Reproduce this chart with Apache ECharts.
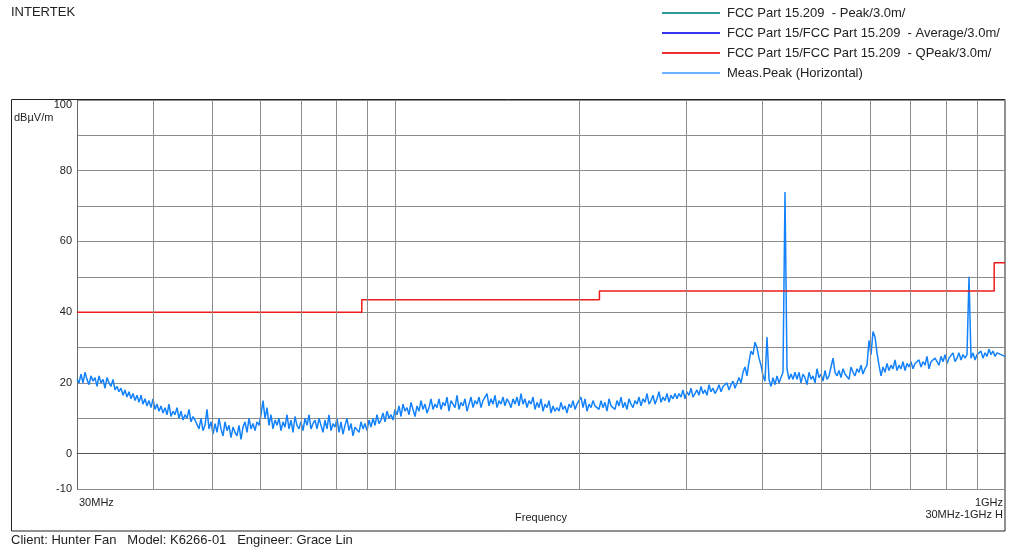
<!DOCTYPE html>
<html>
<head>
<meta charset="utf-8">
<script src="https://cdn.jsdelivr.net/npm/echarts@6/dist/echarts.min.js"></script>
<style>html,body{margin:0;padding:0;background:#fff}#c{width:1011px;height:550px}</style>
</head>
<body>
<div id="c"></div>
<script>
// ---- Data ----
const seriesNames = [
  'FCC Part 15.209  - Peak/3.0m/',
  'FCC Part 15/FCC Part 15.209  - Average/3.0m/',
  'FCC Part 15/FCC Part 15.209  - QPeak/3.0m/',
  'Meas.Peak (Horizontal)'
];
// QPeak limit line (MHz, dBuV/m)
const limitFreq = [30, 88, 88, 216, 216, 960, 960, 1000];
const limitLevel = [40, 40, 43.5, 43.5, 46, 46, 54, 54];
// Frequency grid lines (MHz)
const gridFreqs = [40, 50, 60, 70, 80, 90, 100, 200, 300, 400, 500, 600, 700, 800, 900];
const yTickLabels = [100, 80, 60, 40, 20, 0, -10];
// Sweep: 30 MHz .. 1 GHz, log-spaced points
const sweepStart = 30, sweepStop = 1000;
const measPeak = [
  21, 20, 22.5, 20, 23, 21, 19.5, 22, 20.5, 21.5, 19, 22, 20, 21, 18.5, 21.5, 20, 19, 21, 18,
  19, 17.5, 18.5, 16.5, 18, 16, 17.5, 15.5, 17, 15, 16.5, 14.5, 16.5, 14, 15.5, 13.5, 15, 13, 15.5, 12.5,
  14, 12, 13.5, 11.5, 13, 11, 14, 10.5, 12, 11, 13, 10, 12, 9.5, 11, 10, 12.5, 9, 10.5, 9.5,
  9, 7, 10, 6.5, 8, 12.5, 7, 9, 5.5, 8.5, 6, 10, 7, 5, 9, 6.5, 8, 4.5, 7.5, 6,
  5, 8, 4, 7.5, 9, 6, 10, 7, 8.5, 6.5, 9, 8, 11, 15, 10, 13, 8, 11, 7, 9.5,
  8, 10, 6.5, 9, 7.5, 11, 7, 9.5, 6, 10.5, 8, 7, 9, 6.5, 10, 8, 11, 7, 8.5, 9.5,
  7, 10, 8, 6, 9.5, 7, 11, 6.5, 8.5, 7.5, 10, 6, 9, 5.5, 8, 10, 6.5, 8.5, 5, 7.5,
  8, 6, 9, 7, 8.5, 6.5, 9.5, 7.5, 10, 8, 11, 8.5, 9.5, 11.5, 9, 12, 10, 11, 9.5, 12.5,
  11, 13.5, 10.5, 14, 12, 13, 11, 14.5, 12.5, 10.5, 13.5, 12, 15, 12.5, 14, 11.5, 13, 15.5, 12.5, 14,
  13, 15.5, 12.5, 14.5, 13.5, 16, 12, 15, 14, 13, 16.5, 12.5, 14.5, 13.5, 15.5, 12, 14, 16, 13, 15,
  14, 16, 13, 15, 14.5, 17, 13.5, 15.5, 14, 16.5, 13, 15, 14, 16, 13.5, 15.5, 14.5, 13, 15.5, 14,
  16, 13.5, 17, 14, 15.5, 13, 15, 14, 16, 12.5, 14.5, 13, 15.5, 12, 14, 13, 15, 11.5, 13.5, 12,
  13, 12, 14.5, 12.5, 13.5, 11.5, 14, 13, 15, 12.5, 14, 13.5, 16, 13, 15.5, 12, 14, 13, 15, 13.5,
  14, 12.5, 15, 13, 14.5, 12, 15.5, 13.5, 14, 12.5, 15, 13.5, 16, 13, 14.5, 12.5, 15.5, 14, 13, 15,
  14, 16, 13.5, 15.5, 14.5, 17, 14, 15, 16.5, 14, 15.5, 17.5, 14.5, 16, 15, 17, 14.5, 16.5, 15.5, 17,
  15.5, 17, 16, 18, 15.5, 17.5, 16.5, 18.5, 16, 17, 18, 16.5, 19, 17, 18, 16.5, 19.5, 17.5, 18.5, 17,
  18, 19.5, 17.5, 19, 18.5, 20, 18, 19.5, 20.5, 18.5, 20, 21.5, 20, 23, 24.5, 22, 26, 29, 28, 31.5,
  30, 27, 25, 22, 20.5, 33, 21, 19, 21.5, 19.5, 22, 20, 21.5, 23, 74, 24, 21, 22.5, 21, 23,
  21, 23, 20, 22.5, 21.5, 19.5, 23, 21, 22, 20, 24, 21.5, 22.5, 20.5, 23.5, 21, 22, 24.5, 27, 23,
  22, 23.5, 21.5, 24, 22.5, 23, 21, 24.5, 23, 22, 24, 23, 25, 22.5, 24, 25, 32, 28, 34.5, 33,
  28.5, 25, 22, 24.5, 23, 25.5, 23.5, 25, 24, 26.5, 23.5, 25, 24, 26, 23.5, 25.5, 24.5, 26, 24, 25.5,
  25, 26.5, 24.5, 26, 25, 27.5, 24, 26, 25.5, 27, 26, 25, 27.5, 26, 28, 25.5, 27, 26.5, 28.5, 26,
  27, 28.5, 26.5, 28, 27, 28, 50, 27, 28.5, 26.5, 28, 27.5, 29, 27, 28.5, 27.5, 29.5, 28, 29, 27.5, 28.5, 29, 28, 28.5, 27.5
];

// ---- Build ----
const n = measPeak.length;
const sweepFreq = measPeak.map((_, i) => sweepStart * Math.pow(sweepStop / sweepStart, i / (n - 1)));
const measData = measPeak.map((v, i) => [sweepFreq[i], v]);
const limitData = limitFreq.map((f, i) => [f, limitLevel[i]]);

const legendColors = ['#2e9c9c', '#3535f0', '#f03030', '#6ab4ff'];
const FONT = 'Liberation Sans, Arial, sans-serif';

const chart = echarts.init(document.getElementById('c'), null, {renderer: 'canvas'});
chart.setOption({
  animation: false,
  backgroundColor: '#fff',
  textStyle: {fontFamily: FONT},
  legend: {
    orient: 'vertical',
    left: 662, top: 6, padding: 0,
    icon: 'rect',
    itemWidth: 58, itemHeight: 2, itemGap: 6,
    selectedMode: false,
    textStyle: {fontSize: 13, color: '#222', fontFamily: FONT, lineHeight: 14, padding: [0, 0, 0, 2]},
    data: seriesNames.map((nm, i) => ({
      name: nm,
      icon: 'rect',
      itemStyle: {color: legendColors[i], borderWidth: 0}
    }))
  },
  grid: {left: 77, right: 6, top: 100, bottom: 61, containLabel: false},
  xAxis: {
    type: 'log', logBase: 10, min: 30, max: 1000,
    name: 'Frequency', nameLocation: 'middle', nameGap: 19,
    nameTextStyle: {fontSize: 11, color: '#222', fontFamily: FONT},
    axisLine: {show: true, lineStyle: {color: '#555', width: 1}},
    axisTick: {show: false},
    splitLine: {show: false},
    axisLabel: {
      fontSize: 11, color: '#222', margin: 8, fontFamily: FONT,
      showMinLabel: true, showMaxLabel: true,
      alignMinLabel: 'left', alignMaxLabel: 'right',
      padding: [0, 2, 0, 2],
      formatter: v => Math.abs(v - 30) < 0.01 ? '30MHz' : (Math.abs(v - 1000) < 0.5 ? '1GHz' : '')
    }
  },
  yAxis: {
    type: 'value', min: -10, max: 100, interval: 10,
    axisLine: {show: true, lineStyle: {color: '#666', width: 1}},
    axisTick: {show: false},
    splitLine: {show: true, lineStyle: {color: '#8c8c8c', width: 1}},
    axisLabel: {
      fontSize: 11, color: '#222', margin: 5, fontFamily: FONT,
      formatter: v => v === 100 ? '{top|100}' : (yTickLabels.indexOf(v) >= 0 ? String(v) : ''),
      rich: {top: {fontSize: 11, color: '#222', fontFamily: FONT, padding: [10, 0, 0, 0]}}
    }
  },
  series: [
    {
      name: seriesNames[0], type: 'line', data: [], symbol: 'none',
      lineStyle: {color: legendColors[0]}, itemStyle: {color: legendColors[0]},
      markLine: {
        silent: true, symbol: ['none', 'none'], label: {show: false},
        lineStyle: {color: '#8c8c8c', type: 'solid', width: 1},
        emphasis: {disabled: true},
        data: gridFreqs.map(f => ({xAxis: f}))
      }
    },
    {name: seriesNames[1], type: 'line', data: [], symbol: 'none',
      lineStyle: {color: legendColors[1]}, itemStyle: {color: legendColors[1]}},
    {name: seriesNames[2], type: 'line', data: limitData, symbol: 'none',
      lineStyle: {color: '#ee1c1c', width: 1.5}, itemStyle: {color: '#ee1c1c'}, z: 4},
    {name: seriesNames[3], type: 'line', data: measData, symbol: 'none',
      lineStyle: {color: '#1482fa', width: 1.5}, itemStyle: {color: '#1482fa'}, z: 3}
  ],
  graphic: [
    {type: 'rect', shape: {x: 11.5, y: 99.5, width: 993.5, height: 431.5},
      style: {fill: 'none', stroke: '#222', lineWidth: 1}, silent: true},
    {type: 'text', left: 11, top: 6, style: {text: 'INTERTEK', fontSize: 13, fill: '#222', fontFamily: FONT}},
    {type: 'text', left: 14, top: 112, style: {text: 'dBµV/m', fontSize: 11, fill: '#222', fontFamily: FONT}},
    {type: 'text', right: 8, top: 509, style: {text: '30MHz-1GHz H', fontSize: 11, fill: '#222', fontFamily: FONT}},
    {type: 'text', left: 11, top: 534, style: {text: 'Client: Hunter Fan   Model: K6266-01   Engineer: Grace Lin', fontSize: 13, fill: '#222', fontFamily: FONT}}
  ]
});
</script>
</body>
</html>
